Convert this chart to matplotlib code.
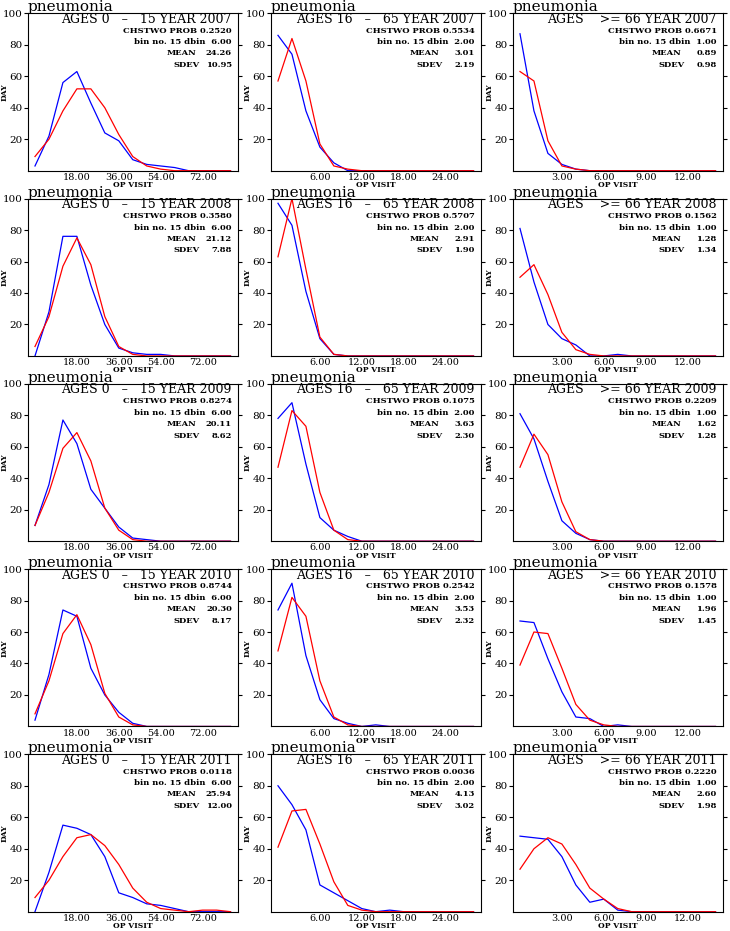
import numpy as np
import matplotlib
matplotlib.use("Agg")
import matplotlib.pyplot as plt

years = [2007, 2008, 2009, 2010, 2011]
groups = ["AGES 0   \u2013   15", "AGES 16   \u2013   65", "AGES    >= 66"]
dbins = [6.0, 2.0, 1.0]
tick_steps = [3, 6, 9, 12]

# observed counts (blue), one list per age group, 15 bins each
blue_2007 = [[3, 22, 56, 63, 43, 24, 19, 7, 4, 3, 2, 0, 0, 0, 0],
             [86, 74, 38, 15, 5, 0, 0, 0, 0, 0, 0, 0, 0, 0, 0],
             [87, 38, 11, 4, 1, 0, 0, 0, 0, 0, 0, 0, 0, 0, 0]]
blue_2008 = [[0, 28, 76, 76, 45, 20, 5, 2, 1, 1, 0, 0, 0, 0, 0],
             [97, 83, 41, 11, 1, 0, 0, 0, 0, 0, 0, 0, 0, 0, 0],
             [81, 47, 20, 11, 7, 0, 0, 1, 0, 0, 0, 0, 0, 0, 0]]
blue_2009 = [[10, 36, 77, 62, 33, 21, 9, 2, 1, 0, 0, 0, 0, 0, 0],
             [78, 88, 49, 15, 7, 3, 0, 0, 0, 0, 0, 0, 0, 0, 0],
             [81, 65, 38, 13, 5, 1, 0, 0, 0, 0, 0, 0, 0, 0, 0]]
blue_2010 = [[4, 33, 74, 70, 37, 20, 9, 2, 0, 0, 0, 0, 0, 0, 0],
             [74, 91, 45, 17, 5, 2, 0, 1, 0, 0, 0, 0, 0, 0, 0],
             [67, 66, 43, 22, 6, 5, 0, 1, 0, 0, 0, 0, 0, 0, 0]]
blue_2011 = [[0, 25, 55, 53, 49, 35, 12, 9, 5, 4, 2, 0, 0, 0, 0],
             [80, 68, 52, 17, 12, 7, 2, 0, 1, 0, 0, 0, 0, 0, 0],
             [48, 47, 46, 35, 17, 6, 8, 1, 0, 0, 0, 0, 0, 0, 0]]

# fitted counts (red)
red_2007 = [[9, 20, 38, 52, 52, 40, 23, 9, 3, 1, 0, 0, 0, 0, 0],
            [57, 84, 57, 17, 3, 1, 0, 0, 0, 0, 0, 0, 0, 0, 0],
            [63, 57, 19, 3, 1, 0, 0, 0, 0, 0, 0, 0, 0, 0, 0]]
red_2008 = [[6, 25, 57, 75, 58, 25, 6, 1, 0, 0, 0, 0, 0, 0, 0],
            [63, 100, 55, 12, 1, 0, 0, 0, 0, 0, 0, 0, 0, 0, 0],
            [50, 58, 39, 15, 4, 1, 0, 0, 0, 0, 0, 0, 0, 0, 0]]
red_2009 = [[10, 31, 59, 69, 51, 21, 7, 1, 0, 0, 0, 0, 0, 0, 0],
            [47, 83, 73, 31, 7, 1, 0, 0, 0, 0, 0, 0, 0, 0, 0],
            [47, 68, 55, 25, 6, 1, 0, 0, 0, 0, 0, 0, 0, 0, 0]]
red_2010 = [[8, 29, 59, 71, 52, 21, 6, 1, 0, 0, 0, 0, 0, 0, 0],
            [48, 82, 70, 29, 6, 1, 0, 0, 0, 0, 0, 0, 0, 0, 0],
            [39, 60, 59, 37, 14, 4, 1, 0, 0, 0, 0, 0, 0, 0, 0]]
red_2011 = [[9, 20, 35, 47, 49, 42, 30, 15, 6, 2, 1, 0, 1, 1, 0],
            [41, 64, 65, 43, 19, 4, 1, 0, 0, 0, 0, 0, 0, 0, 0],
            [27, 40, 47, 43, 30, 15, 8, 2, 0, 0, 0, 0, 0, 0, 0]]

blues = [blue_2007, blue_2008, blue_2009, blue_2010, blue_2011]
reds = [red_2007, red_2008, red_2009, red_2010, red_2011]

chstwo_prob = [[0.2520, 0.5534, 0.6671],
               [0.3580, 0.5707, 0.1562],
               [0.8274, 0.1075, 0.2209],
               [0.8744, 0.2542, 0.1578],
               [0.0118, 0.0036, 0.2220]]
means = [[24.26, 3.01, 0.89],
         [21.12, 2.91, 1.28],
         [20.11, 3.63, 1.62],
         [20.30, 3.53, 1.96],
         [25.94, 4.13, 2.60]]
sdevs = [[10.95, 2.19, 0.98],
         [7.88, 1.90, 1.34],
         [8.62, 2.30, 1.28],
         [8.17, 2.32, 1.45],
         [12.00, 3.02, 1.98]]

plt.rcParams['font.family'] = ['DejaVu Serif']

W, H = 730, 931
fig = plt.figure(figsize=(W / 100, H / 100), dpi=100)

col_left = [28, 271, 513]
ax_w = 209.5
row_top0 = 13.3
row_pitch = 185.25
ax_h = 157.4

for r, year in enumerate(years):
    for c in range(3):
        top = row_top0 + r * row_pitch
        ax = fig.add_axes([col_left[c] / W, 1 - (top + ax_h) / H,
                           ax_w / W, ax_h / H])
        d = dbins[c]
        x = np.arange(15) * d
        ax.plot(x, blues[r][c], color='#0000ff', lw=0.9)
        ax.plot(x, reds[r][c], color='#ff0000', lw=0.9)
        ax.set_xlim(-0.5 * d, 14.5 * d)
        ax.set_ylim(0, 100)
        ax.set_yticks([20, 40, 60, 80, 100])
        ax.set_yticklabels(['20', '40', '60', '80', '100'], fontsize=7.5)
        ax.tick_params(axis='y', left=True, right=True, direction='out',
                       length=3, width=0.8, pad=1)
        ax.set_xticks([k * d for k in tick_steps])
        ax.set_xticklabels(['%.2f' % (k * d) for k in tick_steps], fontsize=7)
        ax.tick_params(axis='x', length=0, pad=1.5)
        for s in ax.spines.values():
            s.set_linewidth(0.8)
        ax.set_ylabel('DAY', fontsize=5.5, fontweight='bold')
        ax.yaxis.set_label_coords(-19 / ax_w, 0.5)
        ax.set_xlabel('OP VISIT', fontsize=5.5, fontweight='bold', labelpad=-0.5)

        ax.text(0.0, 1.012, 'pneumonia', transform=ax.transAxes,
                fontsize=11, ha='left', va='baseline')
        ax.text(0.973, 0.962, '%s YEAR %d' % (groups[c], year),
                transform=ax.transAxes, fontsize=9, ha='right', va='center')
        ax.text(0.973, 0.89, 'CHSTWO PROB %.4f' % chstwo_prob[r][c],
                transform=ax.transAxes, fontsize=6, fontweight='bold',
                ha='right', va='center')
        ax.text(0.973, 0.815, 'bin no. 15 dbin  %.2f' % d,
                transform=ax.transAxes, fontsize=6, fontweight='bold',
                ha='right', va='center')
        ax.text(0.806, 0.745, 'MEAN', transform=ax.transAxes, fontsize=6,
                fontweight='bold', ha='right', va='center')
        ax.text(0.973, 0.745, '%.2f' % means[r][c], transform=ax.transAxes,
                fontsize=6, fontweight='bold', ha='right', va='center')
        ax.text(0.82, 0.67, 'SDEV', transform=ax.transAxes, fontsize=6,
                fontweight='bold', ha='right', va='center')
        ax.text(0.973, 0.67, '%.2f' % sdevs[r][c], transform=ax.transAxes,
                fontsize=6, fontweight='bold', ha='right', va='center')

fig.savefig('out.png', dpi=100)
